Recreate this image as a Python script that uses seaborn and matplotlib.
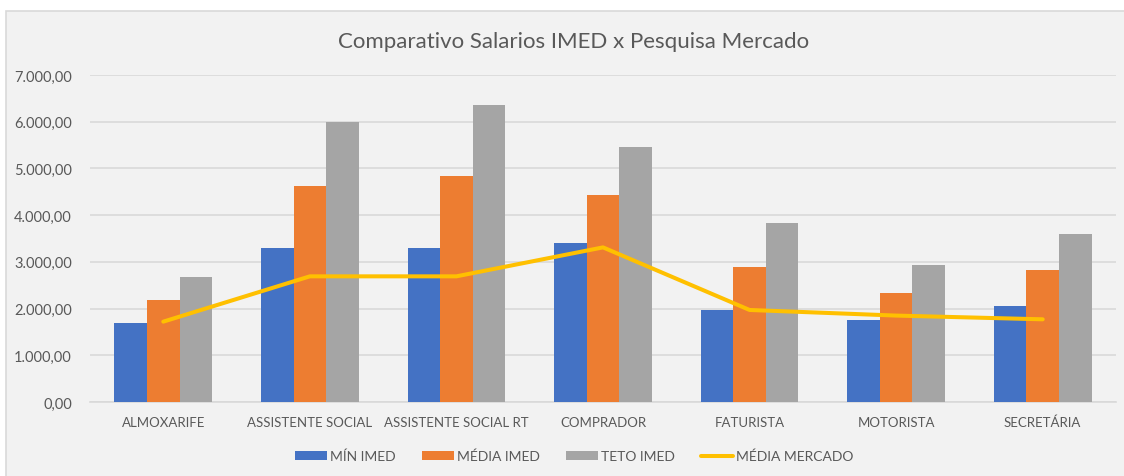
import numpy as np
import pandas as pd
import matplotlib.pyplot as plt
import matplotlib.patches as mpatches
from matplotlib.ticker import FuncFormatter
import seaborn as sns

# Dados
cargos = ["ALMOXARIFE", "ASSISTENTE SOCIAL", "ASSISTENTE SOCIAL RT", "COMPRADOR",
          "FATURISTA", "MOTORISTA", "SECRETÁRIA"]
min_imed = [1700, 3290, 3290, 3400, 1980, 1755, 2060]
media_imed = [2180, 4630, 4830, 4440, 2900, 2340, 2815]
teto_imed = [2680, 6000, 6360, 5465, 3825, 2925, 3600]
media_mercado = [1720, 2690, 2690, 3310, 1970, 1850, 1770]

series = ["MÍN IMED", "MÉDIA IMED", "TETO IMED"]
cores = ["#4472C4", "#ED7D31", "#A5A5A5"]
cor_linha = "#FFC000"
cor_texto = "#595959"

df = pd.DataFrame({"cargo": cargos, "MÍN IMED": min_imed,
                   "MÉDIA IMED": media_imed, "TETO IMED": teto_imed})
df_long = df.melt(id_vars="cargo", var_name="serie", value_name="valor")

sns.set_theme(style="white")
plt.rcParams["font.family"] = ["Lato", "DejaVu Sans"]

fig = plt.figure(figsize=(11.24, 4.77), dpi=100, facecolor="white")
# fundo cinza do grafico (estilo Excel)
fig.patches.append(mpatches.Rectangle((6 / 1124, -0.01), 1.0, 1 - 12 / 477 + 0.01,
                                      transform=fig.transFigure, facecolor="#F2F2F2",
                                      edgecolor="#D9D9D9", linewidth=1.2, zorder=-10))

ax = fig.add_axes([90 / 1124, 1 - 403 / 477, 1026 / 1124, 327 / 477])
ax.set_facecolor("none")

sns.barplot(data=df_long, x="cargo", y="valor", hue="serie", palette=cores,
            width=0.667, saturation=1, edgecolor="none", ax=ax, zorder=3)
sns.lineplot(x=np.arange(len(cargos)), y=media_mercado, color=cor_linha,
             linewidth=2.9, ax=ax, zorder=4, label="MÉDIA MERCADO")

ax.set_xlim(-0.5, len(cargos) - 0.5)
ax.set_ylim(0, 7000)
ax.set_yticks(np.arange(0, 7001, 1000))
ax.yaxis.set_major_formatter(FuncFormatter(
    lambda v, p: f"{v:,.2f}".replace(",", "X").replace(".", ",").replace("X", ".")))
ax.grid(axis="y", color="#D9D9D9", linewidth=1.2, zorder=0)
ax.set_axisbelow(True)
for s in ["top", "right", "left"]:
    ax.spines[s].set_visible(False)
ax.spines["bottom"].set_color("#D9D9D9")
ax.spines["bottom"].set_linewidth(1.2)
ax.tick_params(axis="y", length=0, pad=13, labelsize=10.5, labelcolor=cor_texto)
ax.tick_params(axis="x", length=0, pad=10, labelsize=9.5, labelcolor=cor_texto)
ax.set_xlabel("")
ax.set_ylabel("")

handles, labels = ax.get_legend_handles_labels()
ax.get_legend().remove()
fig.legend(handles, labels, loc="center", bbox_to_anchor=(574 / 1124, 1 - 457 / 477),
           ncol=4, frameon=False, fontsize=10, labelcolor=cor_texto,
           handlelength=2.3, handleheight=0.55, handletextpad=0.2, columnspacing=1.9)

fig.text(574 / 1124, 1 - 42 / 477, "Comparativo Salarios IMED x Pesquisa Mercado",
         ha="center", va="center", fontsize=16, color=cor_texto)

fig.savefig("out.png", dpi=100, facecolor="white")
